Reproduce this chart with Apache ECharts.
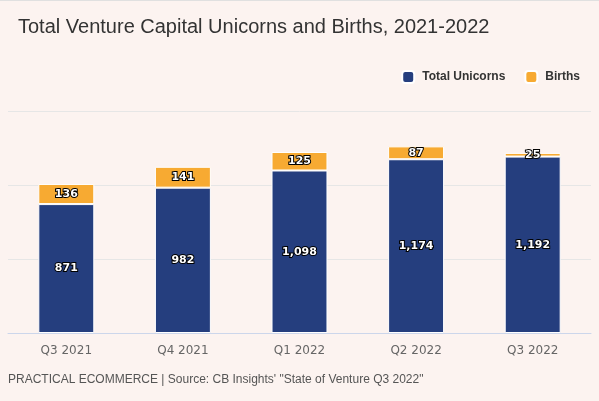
<!DOCTYPE html>
<html><head><meta charset="utf-8">
<script src="https://cdn.jsdelivr.net/npm/echarts@6/dist/echarts.min.js"></script>
<style>html,body{margin:0;padding:0;background:#fcf3f0}#c{width:599px;height:401px}</style>
</head><body><div id="c"></div>
<script>
const categories = ["Q3 2021","Q4 2021","Q1 2022","Q2 2022","Q3 2022"];
const totalUnicorns = [871, 982, 1098, 1174, 1192];
const births = [136, 141, 125, 87, 25];
const chart = echarts.init(document.getElementById('c'), null, {renderer:'canvas'});
const lbl = {
  show:true, position:'inside', color:'#fff', fontFamily:'DejaVu Sans', fontSize:11, fontWeight:'bold',
  textBorderColor:'#000', textBorderWidth:2,
  formatter: p => p.value.toLocaleString('en-US')
};
chart.setOption({
  backgroundColor:'#fcf3f0',
  animation:false,
  title:{text:'Total Venture Capital Unicorns and Births, 2021-2022', left:13, top:12,
    textStyle:{fontFamily:'Liberation Sans', fontSize:20, fontWeight:'normal', color:'#333'}},
  legend:{right:14, top:65, itemWidth:12, itemHeight:12, itemGap:19, icon:'roundRect',
    textStyle:{fontFamily:'Liberation Sans', fontSize:12, fontWeight:'bold', color:'#333', padding:[0,0,0,3]}},
  grid:{left:8, right:8, top:111, bottom:68},
  xAxis:{type:'category', data:categories,
    axisLine:{lineStyle:{color:'#ccd6eb'}}, axisTick:{show:false},
    axisLabel:{fontFamily:'DejaVu Sans', fontSize:12, color:'#666', margin:12}},
  yAxis:{type:'value', min:0, max:1500, interval:500, axisLabel:{show:false},
    splitLine:{lineStyle:{color:'#e6e6e6'}}},
  series:[
    {name:'Total Unicorns', type:'bar', stack:'a', data:totalUnicorns, barWidth:'48%',
     itemStyle:{color:'#253e7e', borderColor:'#fff', borderWidth:1}, label:lbl},
    {name:'Births', type:'bar', stack:'a', data:births,
     itemStyle:{color:'#f7aa32', borderColor:'#fff', borderWidth:1}, label:lbl}
  ],
  graphic:[
    {type:'text', left:8, top:374, style:{text:'PRACTICAL ECOMMERCE | Source: CB Insights\' "State of Venture Q3 2022"',
      fontFamily:'Liberation Sans', fontSize:12, fill:'#555'}},
    {type:'rect', shape:{x:0,y:0,width:599,height:1}, style:{fill:'#e0e0e0'}}
  ]
});
</script></body></html>
